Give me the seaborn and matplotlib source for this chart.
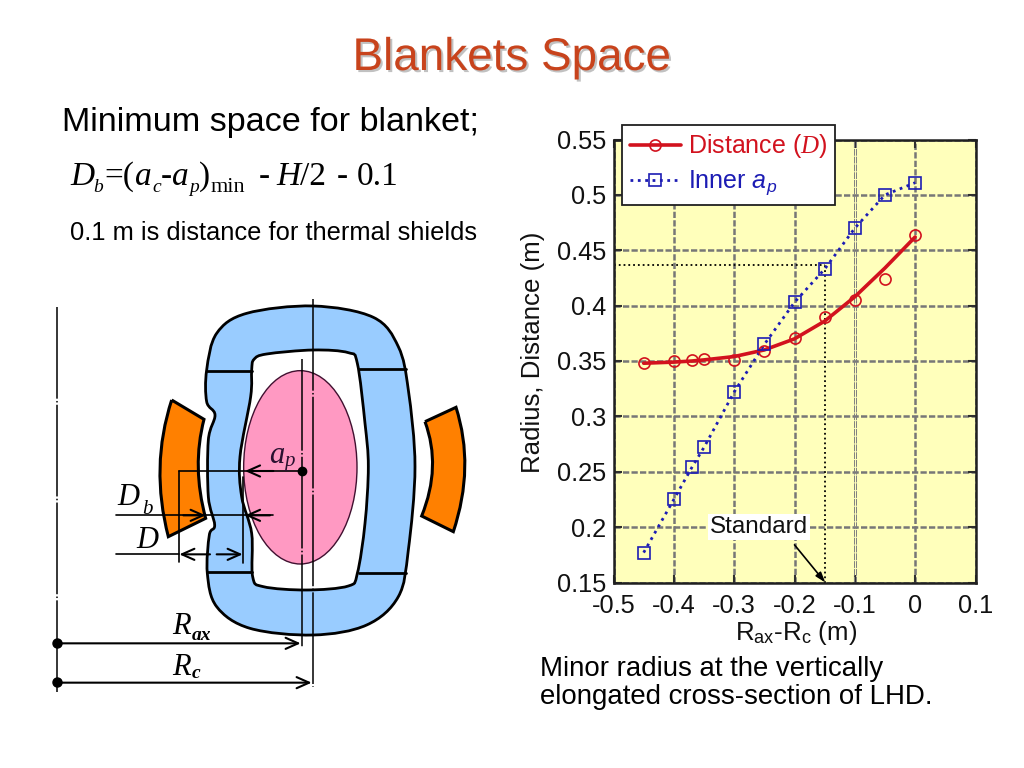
import matplotlib
matplotlib.use("Agg")
import matplotlib.pyplot as plt
import matplotlib.patheffects as pe
from matplotlib.lines import Line2D
from matplotlib.patches import Ellipse, PathPatch
from matplotlib.path import Path
import numpy as np
import pandas as pd
import seaborn as sns

shift = [-0.45, -0.4, -0.37, -0.35, -0.3, -0.25, -0.2, -0.15, -0.1, -0.05, 0.0]
distance = [0.348, 0.350, 0.351, 0.352, 0.351, 0.359, 0.371, 0.390, 0.405, 0.424, 0.464]
distance_fit = [0.348, 0.349, 0.350, 0.351, 0.354, 0.360, 0.370, 0.386, 0.408, 0.434, 0.462]
inner_ap = [0.177, 0.225, 0.254, 0.272, 0.322, 0.365, 0.403, 0.433, 0.470, 0.500, 0.511]

x_ticks = [-0.5, -0.4, -0.3, -0.2, -0.1, 0, 0.1]
x_labels = ['-0.5', '-0.4', '-0.3', '-0.2', '-0.1', '0', '0.1']
y_ticks = [0.15, 0.2, 0.25, 0.3, 0.35, 0.4, 0.45, 0.5, 0.55]
y_labels = ['0.15', '0.2', '0.25', '0.3', '0.35', '0.4', '0.45', '0.5', '0.55']

RED = '#d2121e'
BLUE = '#1c1cb4'
W, H = 1024, 768

sns.set_style('white')
plt.rcParams['font.family'] = ['Liberation Sans', 'DejaVu Sans']
plt.rcParams['mathtext.fontset'] = 'custom'
plt.rcParams['mathtext.rm'] = 'Liberation Sans'
plt.rcParams['mathtext.it'] = 'Liberation Serif:italic'
plt.rcParams['mathtext.sf'] = 'Liberation Sans:italic'

df = pd.DataFrame({'shift': shift, 'distance': distance,
                   'fit': distance_fit, 'ap': inner_ap})


def smooth(points):
    # closed outline through the points, catmull-rom turned into beziers
    p = np.array(points, dtype=float)
    n = len(p)
    verts = [p[0]]
    codes = [Path.MOVETO]
    for i in range(n):
        p0, p1, p2, p3 = p[i - 1], p[i], p[(i + 1) % n], p[(i + 2) % n]
        verts += [p1 + (p2 - p0) / 6, p2 - (p3 - p1) / 6, p2]
        codes += [Path.CURVE4] * 3
    return Path(verts, codes)


def arrow(ax, start, end):
    ax.annotate('', xy=end, xytext=start,
                arrowprops=dict(arrowstyle='->,head_length=0.9,head_width=0.4',
                                color='black', lw=1.5, shrinkA=0, shrinkB=0))


def draw_diagram(ax):
    # drawn in pixels of the 3x crop of this region
    outer = [(500, 240), (530, 130), (620, 70), (820, 48), (1000, 82), (1075, 170),
             (1105, 300), (1125, 530), (1105, 780), (1075, 920), (980, 1005),
             (820, 1035), (630, 1015), (530, 950), (502, 850), (508, 735), (524, 705),
             (505, 620), (505, 450), (525, 375), (500, 335)]
    inner = [(635, 240), (642, 208), (680, 192), (820, 180), (925, 188), (952, 220),
             (975, 400), (985, 530), (975, 700), (952, 850), (925, 888), (800, 900),
             (670, 890), (638, 860), (635, 730), (605, 620), (600, 500), (632, 320)]
    ax.add_patch(PathPatch(smooth(outer), fc='#99ccff', ec='black', lw=2))
    ax.add_patch(PathPatch(smooth(inner), fc='white', ec='black', lw=2))
    ax.plot([500, 635], [242, 242], color='black', lw=2)
    ax.plot([500, 635], [845, 845], color='black', lw=2)
    ax.plot([958, 1098], [238, 238], color='black', lw=2)
    ax.plot([958, 1098], [848, 848], color='black', lw=2)
    ax.add_patch(Ellipse((781, 532), 340, 580, fc='#ff99c2', ec='#401030', lw=1))

    left = Path([(395, 330), (492, 388), (455, 530), (497, 685), (385, 740), (330, 530), (395, 330)],
                [Path.MOVETO, Path.LINETO, Path.CURVE3, Path.CURVE3, Path.LINETO, Path.CURVE3, Path.CURVE3])
    right = Path([(1155, 395), (1248, 352), (1305, 530), (1240, 725), (1145, 678), (1205, 530), (1155, 395)],
                 [Path.MOVETO, Path.LINETO, Path.CURVE3, Path.CURVE3, Path.LINETO, Path.CURVE3, Path.CURVE3])
    for shape in (left, right):
        ax.add_patch(PathPatch(shape, fc='#ff8000', ec='black', lw=2.2))

    # centre lines and dimension lines
    ax.plot([50, 50], [50, 1205], color='black', lw=1.1, dashes=(60, 1.5, 1, 1.5))
    ax.plot([818, 818], [28, 1190], color='black', lw=1.1, dashes=(60, 1.5, 1, 1.5))
    ax.plot([785, 785], [208, 1075], color='black', lw=1.1, dashes=(60, 1.5, 1, 1.5))
    ax.plot([417, 785], [543, 543], color='black', lw=1.2)
    ax.plot([417, 417], [543, 815], color='black', lw=1.2)
    ax.plot([609, 609], [560, 820], color='black', lw=1.2)
    ax.plot([228, 700], [676, 676], color='black', lw=1.2)
    ax.plot([228, 417], [793, 793], color='black', lw=1.2)
    ax.plot([785], [543], 'o', color='black', ms=6)
    ax.plot([50, 50], [1058, 1176], 'o', color='black', ms=6.5)
    arrow(ax, (700, 543), (615, 543))
    arrow(ax, (430, 676), (497, 676))
    arrow(ax, (690, 676), (615, 676))
    arrow(ax, (510, 793), (418, 793))
    arrow(ax, (530, 793), (608, 793))
    arrow(ax, (50, 1060), (782, 1060))
    arrow(ax, (50, 1178), (815, 1178))

    serif = dict(family='Liberation Serif', style='italic', color='black', va='center')
    ax.text(232, 622, 'D', fontsize=22, **serif)
    ax.text(306, 658, 'b', fontsize=15, **serif)
    ax.text(288, 752, 'D', fontsize=22, **serif)
    ax.text(397, 1010, 'R', fontsize=22, **serif)
    ax.text(456, 1035, 'ax', fontsize=14, weight='bold', **serif)
    ax.text(397, 1132, 'R', fontsize=22, **serif)
    ax.text(456, 1152, 'c', fontsize=14, weight='bold', **serif)
    ax.text(686, 497, 'a', fontsize=22, **dict(serif, color='#2a1030'))
    ax.text(732, 514, 'p', fontsize=15, **dict(serif, color='#2a1030'))


def formula(fig):
    # the slide sets this with narrow spacing, so each piece gets its own x
    pieces = [('D', 70, 177, 24, 'italic'), ('b', 93, 188, 14, 'italic'), ('=(', 104, 177, 24, 'normal'),
              ('a', 135, 177, 24, 'italic'), ('c', 152, 188, 14, 'italic'), ('-', 161, 177, 24, 'normal'),
              ('a', 172, 177, 24, 'italic'), ('p', 189, 188, 14, 'italic'), (')', 199, 177, 24, 'normal'),
              ('min', 211, 188, 16, 'normal'), ('-', 259, 177, 24, 'normal'), ('H', 276, 177, 24, 'italic'),
              ('/2', 300, 177, 24, 'normal'), ('-', 337, 177, 24, 'normal'), ('0.1', 357, 177, 24, 'normal')]
    for s, x, y, size, style in pieces:
        fig.text(x / W, 1 - y / H, s, fontsize=size, style=style, family='Liberation Serif',
                 color='black', va='center')


fig = plt.figure(figsize=(W / 100, H / 100), dpi=100, facecolor='white')

# slide text
fig.text(512 / W, 1 - 58 / H, 'Blankets Space', color='#c8431c', fontsize=33, ha='center', va='center',
         path_effects=[pe.withSimplePatchShadow(offset=(1.5, -1.5), shadow_rgbFace='#999999', alpha=0.6)])
fig.text(62 / W, 1 - 122 / H, 'Minimum space for blanket;', color='black', fontsize=24.6, va='center')
formula(fig)
fig.text(70 / W, 1 - 233 / H, '0.1 m is distance for thermal shields', color='black', fontsize=18.4, va='center')
fig.text(540 / W, 1 - 683 / H, 'Minor radius at the vertically\nelongated cross-section of LHD.',
         color='black', fontsize=19.9, va='center', linespacing=1.05)

# diagram
dax = fig.add_axes([40 / W, 1 - 710 / H, 460 / W, 420 / H])
dax.set_xlim(0, 1380)
dax.set_ylim(1260, 0)
dax.axis('off')
draw_diagram(dax)

# chart
ax = fig.add_axes([613.5 / W, 1 - 582.5 / H, 362 / W, 443 / H], zorder=3)
ax.set_facecolor('#ffffbb')
ax.set_axisbelow(True)
ax.grid(True, color='#777777', lw=1.8, ls=(0, (2.5, 0.9)))
ax.axvline(-0.15, ymax=(0.437 - 0.15) / 0.4, color='black', lw=1.3, ls=':')
ax.axhline(0.437, xmax=0.35 / 0.6, color='black', lw=1.3, ls=':')

sns.lineplot(data=df, x='shift', y='fit', color=RED, lw=2.6, ax=ax, zorder=4)
sns.lineplot(data=df, x='shift', y='distance', color=RED, lw=0, marker='o', ms=8,
             mfc='none', mec=RED, mew=1.2, ax=ax, zorder=5)
sns.lineplot(data=df, x='shift', y='ap', color=BLUE, lw=2, ls=':', ax=ax, zorder=4)
sns.lineplot(data=df, x='shift', y='ap', color=BLUE, lw=0, marker='s', ms=8,
             mfc='none', mec=BLUE, mew=1.2, ax=ax, zorder=5)

ax.set_xlim(-0.5, 0.1)
ax.set_ylim(0.15, 0.55)
ax.set_xticks(x_ticks, x_labels)
ax.set_yticks(y_ticks, y_labels)
ax.tick_params(axis='both', direction='in', length=6, width=1.5, color='#303030', labelsize=18.3,
               top=True, right=True, bottom=True, left=True, labelcolor='#111111')
ax.tick_params(axis='x', pad=8)
ax.tick_params(axis='y', pad=5)

# the -0.1 grid line shows up as a thin double line in the original
ax.xaxis.get_major_ticks()[4].gridline.set_visible(False)
for dx in (-0.0017, 0.0017):
    ax.axvline(-0.1 + dx, color='#808080', lw=0.7, ls=(0, (7, 1)), zorder=1)

for spine in ax.spines.values():
    spine.set_linewidth(1.8)
    spine.set_color('#202020')
ax.set_xlabel(r'R$_{\mathrm{ax}}$-R$_{\mathrm{c}}$ (m)', fontsize=18.6, labelpad=1, x=0.505, color='#111111')
ax.set_ylabel('Radius, Distance (m)', fontsize=18.6, labelpad=9, y=0.52, color='#111111')

ax.text(-0.259, 0.2, 'Standard', fontsize=17.5, ha='center', va='center', color='#111111', zorder=6,
        bbox=dict(fc='white', ec='none', pad=1.5))
ax.annotate('', xy=(-0.149, 0.15), xytext=(-0.2, 0.184), annotation_clip=False, zorder=6,
            arrowprops=dict(arrowstyle='-|>,head_length=0.6,head_width=0.2', color='black', lw=1.2,
                            shrinkA=0, shrinkB=0))

handles = [Line2D([], [], color=RED, lw=2.6, marker='o', ms=8, mfc='none', mec=RED, mew=1.2),
           Line2D([], [], color=BLUE, lw=2, ls=':', marker='s', ms=8, mfc='none', mec=BLUE, mew=1.2)]
leg = ax.legend(handles, [r'Distance ($D$)', r'Inner $\mathsf{a_p}$'], fontsize=18,
                loc='upper left', bbox_to_anchor=(622 / W, 1 - 125 / H), bbox_transform=fig.transFigure,
                borderaxespad=0, fancybox=False, framealpha=1, facecolor='white', edgecolor='#202020',
                labelspacing=0.33, handlelength=2.05, handletextpad=0.3, borderpad=0.3)
leg.get_frame().set_linewidth(1.3)
leg.set_zorder(10)
leg.get_texts()[0].set_color(RED)
leg.get_texts()[1].set_color(BLUE)

fig.savefig('out.png', dpi=100)
